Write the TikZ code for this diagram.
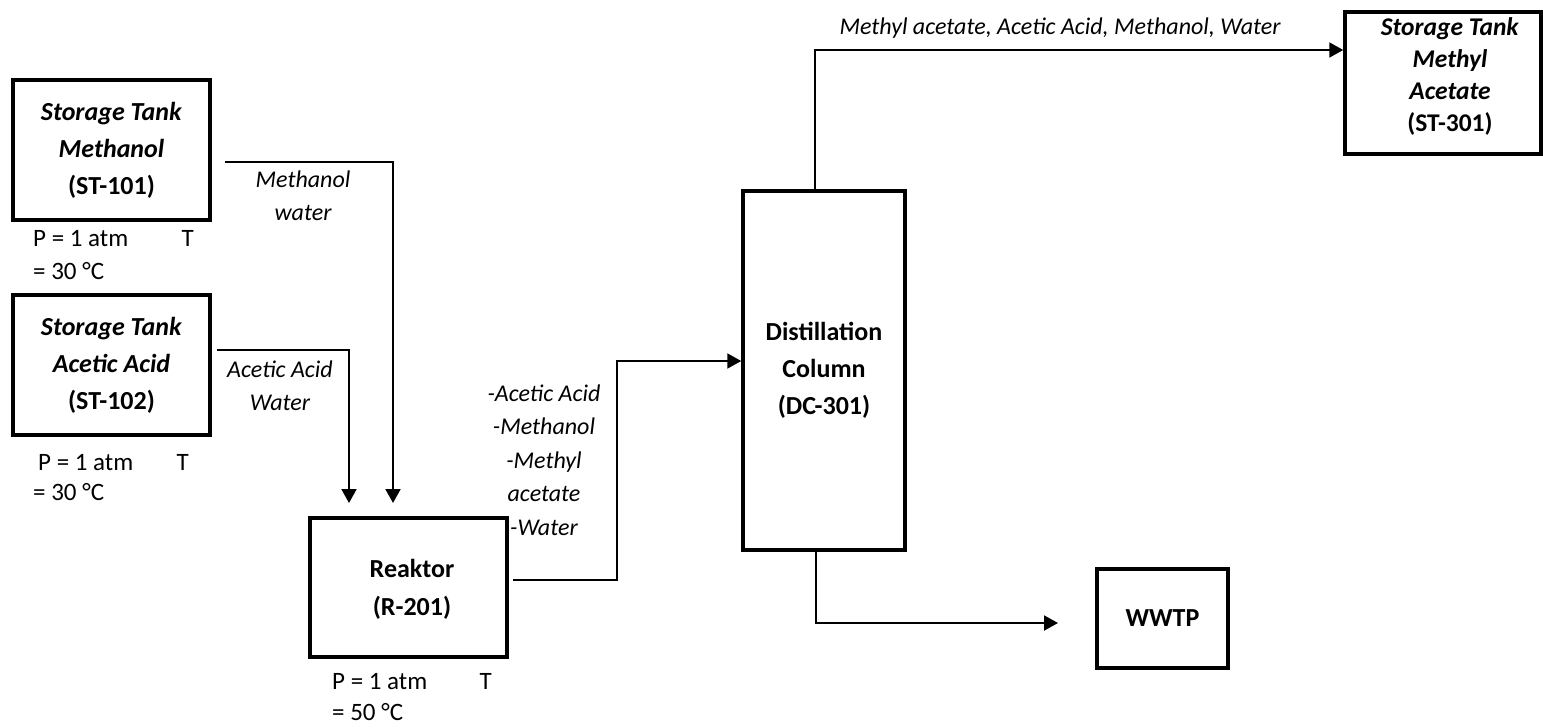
\documentclass[tikz,border=0pt]{standalone}
\usepackage{fontspec}
\setmainfont{Carlito}
\usetikzlibrary{arrows.meta}
\begin{document}
\begin{tikzpicture}[x=1pt,y=-1pt,
  unit/.style={draw,line width=3.5pt,inner sep=0pt,align=center,font=\bfseries\fontsize{26}{37}\selectfont},
  unittext/.style={inner sep=0pt,align=center,font=\bfseries\fontsize{25.5}{32}\selectfont},
  flow/.style={line width=2pt,-{Triangle[length=14pt,width=15pt]}},
  stream/.style={align=center,inner sep=0pt,font=\itshape\fontsize{24}{33.5}\selectfont},
  cond/.style={inner sep=0pt,font=\fontsize{25}{32}\selectfont}]
\useasboundingbox (0,0) rectangle (1543,728);
% units
\node[unit,minimum width=197pt,minimum height=140pt] (st101) at (111.5,150) {\textit{Storage Tank}\\\textit{Methanol}\\(ST-101)};
\node[unit,minimum width=197pt,minimum height=140pt] (st102) at (111.5,365) {\textit{Storage Tank}\\\textit{Acetic Acid}\\(ST-102)};
\node[unit,minimum width=197pt,minimum height=139pt] (r201) at (408.5,587.5) {};
\node[unittext,font=\bfseries\fontsize{26}{38}\selectfont] (r201t) at (412,589) {Reaktor\\(R-201)};
\node[unit,minimum width=162pt,minimum height=359pt] (dc) at (824,370.5) {Distillation\\Column\\(DC-301)};
\node[unit,minimum width=196pt,minimum height=142pt] (st301) at (1443,83) {};
\node[unittext] (st301t) at (1450,76) {\textit{Storage Tank}\\\textit{Methyl}\\\textit{Acetate}\\(ST-301)};
\node[unit,minimum width=131pt,minimum height=99pt] (wwtp) at (1162.5,618.5) {WWTP};
% connectors
\coordinate (m1s) at (225,162);
\coordinate (m1e) at (393,503);
\draw[flow] (m1s) -| (m1e);
\coordinate (a1s) at (217,350);
\coordinate (a1e) at (349,503);
\draw[flow] (a1s) -| (a1e);
\coordinate (r1s) at (513,580);
\coordinate (r1k) at (617,361);
\draw[flow] (r1s) -| (r1k) -- (r1k -| dc.west);
\coordinate (dct) at (815,191);
\coordinate (dck) at (815,50);
\draw[flow] (dct) -- (dck) -- (dck -| st301.west);
\coordinate (dcb) at (816,551);
\coordinate (wwe) at (1058,623);
\draw[flow] (dcb) |- (wwe);
% stream labels
\node[stream] (lm1) at (303,196) {Methanol\\water};
\node[stream] (la1) at (280,386) {Acetic Acid\\Water};
\node[stream] (lr1) at (544,460) {-Acetic Acid\\-Methanol\\-Methyl\\acetate\\-Water};
\node[stream] (ltop) at (1060,28) {Methyl acetate, Acetic Acid, Methanol, Water};
% conditions
\node[cond,anchor=base west] (c1p) at (33,246.5) {P = 1 atm};
\node[cond,anchor=base east] (c1t) at (194,246.5) {T};
\node[cond,anchor=base west] (c1c) at (33,279.5) {= 30 °C};
\node[cond,anchor=base west] (c2p) at (38,470) {P = 1 atm};
\node[cond,anchor=base east] (c2t) at (189,470) {T};
\node[cond,anchor=base west] (c2c) at (33,500) {= 30 °C};
\node[cond,anchor=base west] (c3p) at (332,689.5) {P = 1 atm};
\node[cond,anchor=base east] (c3t) at (492,689.5) {T};
\node[cond,anchor=base west] (c3c) at (332,720.5) {= 50 °C};
\end{tikzpicture}
\end{document}
